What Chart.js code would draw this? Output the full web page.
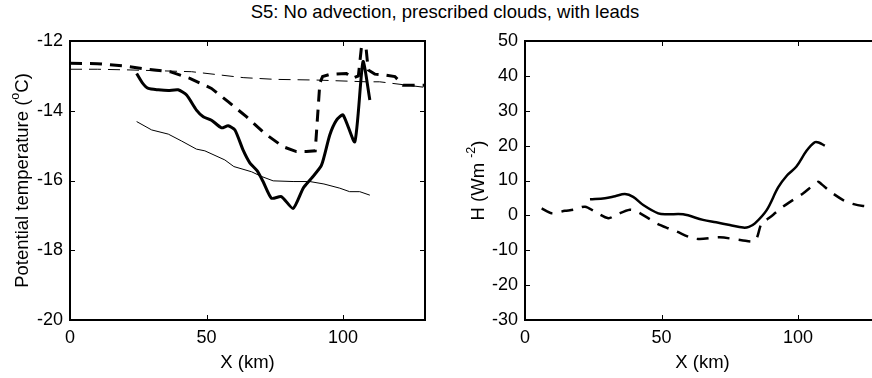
<!DOCTYPE html>
<html>
<head>
<meta charset="utf-8">
<script src="https://cdn.jsdelivr.net/npm/chart.js@4"></script>
<style>
html,body{margin:0;padding:0;width:872px;height:378px;overflow:hidden;background:#fff}
#title{position:absolute;left:0;top:1px;width:890px;text-align:center;font:18.5px 'Liberation Sans',Arial,sans-serif;color:#000}
#tempChart{position:absolute;left:0;top:0}
#fluxChart{position:absolute;left:440px;top:0}
</style>
</head>
<body>
<div id="title">S5: No advection, prescribed clouds, with leads</div>
<canvas id="tempChart" width="440" height="378"></canvas>
<canvas id="fluxChart" width="452" height="378"></canvas>
<script>
// potential temperature (degC) along X (km)
const thetaThickX = [24.4, 26.5, 28.7, 32.3, 36, 39.6, 42.7, 46.3, 48.8, 51.8, 55.5, 57.9, 60.4, 63.4, 65.9, 68.5, 70.7, 73.8, 77.4, 81.7, 85.4, 88.4, 92.1, 95.1, 97.6, 100, 104.3, 107.3, 109.8];
const thetaThickY = [-12.93, -13.2, -13.36, -13.4, -13.42, -13.4, -13.55, -13.98, -14.17, -14.27, -14.49, -14.43, -14.55, -15.13, -15.5, -15.72, -16.03, -16.51, -16.46, -16.8, -16.22, -15.94, -15.56, -14.7, -14.27, -14.12, -14.89, -12.59, -13.69];

const thetaDashX = [0, 10, 20.1, 27.4, 36.6, 43.9, 51.8, 57.9, 64.6, 71.3, 78, 82.9, 86.6, 89.8, 91.5, 92.5, 95.1, 101.2, 103.5, 105.6, 107.6, 109.2, 111.6, 115, 119, 122, 126, 130];
const thetaDashY = [-12.64, -12.65, -12.72, -12.8, -12.88, -13.07, -13.36, -13.74, -14.17, -14.65, -15.03, -15.17, -15.17, -15.15, -13.2, -13.02, -12.96, -12.93, -13.07, -13.0, -11.54, -12.83, -12.95, -12.97, -13.02, -13.27, -13.27, -13.27];

const thetaThinDashX = [0, 10, 22, 44.5, 63.4, 75, 90.3, 108.5, 113.4, 130];
const thetaThinDashY = [-12.81, -12.81, -12.83, -12.88, -13.05, -13.1, -13.12, -13.17, -13.17, -13.33];

const thetaThinX = [24.4, 29.9, 36, 40.9, 46.3, 49.4, 56.7, 60, 66.5, 70, 74.4, 81.7, 87.8, 93, 98.8, 102.4, 106.1, 109.8];
const thetaThinY = [-14.31, -14.55, -14.67, -14.87, -15.1, -15.15, -15.41, -15.6, -15.75, -15.88, -16.01, -16.03, -16.03, -16.1, -16.22, -16.32, -16.32, -16.42];

// sensible heat flux H (W m-2)
const fluxSolidX = [23.8, 29.3, 33, 36.6, 39.6, 43.3, 48.8, 52, 57.9, 65.2, 70, 75, 79.9, 82, 84.2, 88.5, 92.7, 96, 99.4, 103.1, 106.1, 107.5, 109.8];
const fluxSolidY = [4.6, 4.9, 5.5, 6.1, 5.3, 2.97, 0.57, 0.3, 0.3, -1.3, -2.0, -2.76, -3.5, -3.3, -2.3, 1.5, 8.0, 11.5, 14, 18.5, 20.95, 20.9, 20];

const fluxDashX = [6.1, 9.8, 14.6, 17.7, 22, 25.6, 30.5, 33.5, 38.4, 40.9, 45.1, 48.2, 52.4, 55.5, 60.4, 64, 71.3, 79.3, 84.2, 86.6, 88.5, 90.9, 94.5, 101.8, 107.3, 108.5, 112, 116.5, 120, 123.8, 130];
const fluxDashY = [2.0, 0.6, 1.3, 1.6, 2.5, 1.05, -0.8, 0.2, 1.6, 1.1, -0.8, -2.3, -3.7, -4.6, -6.3, -6.8, -6.3, -7.1, -7.3, -2.3, -1.2, 0.2, 2.5, 6.3, 9.6, 9.0, 6.7, 4.4, 3.3, 2.7, 2.4];

const xTicks = [0, 50, 100];

const FAMILY = "'Liberation Sans', Arial, sans-serif";
Chart.defaults.font.family = FAMILY;
Chart.defaults.color = '#000';

const pts = (xs, ys) => xs.map((x, i) => ({ x, y: ys[i] }));

// box round the plot with MATLAB-style inward ticks on all four sides
const boxTicks = {
  id: 'boxTicks',
  afterDatasetsDraw(chart) {
    const { ctx, chartArea: a, scales: { x, y } } = chart;
    ctx.save();
    ctx.strokeStyle = '#000';
    ctx.lineWidth = 1;
    ctx.beginPath();
    x.ticks.forEach(t => {
      const px = Math.round(x.getPixelForValue(t.value)) + 0.5;
      ctx.moveTo(px, a.bottom); ctx.lineTo(px, a.bottom - 5);
      ctx.moveTo(px, a.top); ctx.lineTo(px, a.top + 5);
    });
    y.ticks.forEach(t => {
      const py = Math.round(y.getPixelForValue(t.value)) + 0.5;
      ctx.moveTo(a.left, py); ctx.lineTo(a.left + 5, py);
      ctx.moveTo(a.right, py); ctx.lineTo(a.right - 5, py);
    });
    ctx.stroke();
    ctx.lineWidth = 2;
    ctx.strokeRect(a.left, a.top, a.right - a.left, a.bottom - a.top);
    ctx.restore();
  }
};

// rotated y-axis title that can carry a superscript part
const supTitle = {
  id: 'supTitle',
  afterDraw(chart, args, opts) {
    const { ctx, chartArea: a } = chart;
    const big = '18.5px ' + FAMILY, small = '12.5px ' + FAMILY;
    ctx.save();
    ctx.translate(opts.x, (a.top + a.bottom) / 2);
    ctx.rotate(-Math.PI / 2);
    ctx.fillStyle = '#000';
    ctx.textBaseline = 'middle';
    ctx.textAlign = 'left';
    let w = 0;
    opts.parts.forEach(([s, sup]) => { ctx.font = sup ? small : big; w += ctx.measureText(s).width; });
    let cx = -w / 2;
    opts.parts.forEach(([s, sup]) => {
      ctx.font = sup ? small : big;
      ctx.fillText(s, cx, sup ? -7 : 0);
      cx += ctx.measureText(s).width;
    });
    ctx.restore();
  }
};

function axes(yOpts, yWidth) {
  return {
    x: {
      type: 'linear', min: 0, max: 130,
      afterBuildTicks: s => { s.ticks = xTicks.map(v => ({ value: v })); },
      afterFit: s => { s.height = 58; },
      grid: { display: false, drawTicks: false },
      border: { display: false },
      ticks: { font: { size: 18 }, padding: 7, maxRotation: 0 },
      title: { display: true, text: 'X (km)', font: { size: 18.5 }, padding: { top: 0, bottom: 4 } }
    },
    y: Object.assign({
      type: 'linear',
      afterFit: s => { s.width = yWidth; },
      grid: { display: false, drawTicks: false },
      border: { display: false }
    }, yOpts)
  };
}

const line = (data, width, dash, tension) => ({
  data, borderColor: '#000', borderWidth: width, borderDash: dash || [],
  pointRadius: 0, tension: tension || 0, fill: false
});

new Chart(document.getElementById('tempChart'), {
  type: 'line',
  data: {
    datasets: [
      line(pts(thetaThickX, thetaThickY), 3, null, 0.2),
      line(pts(thetaDashX, thetaDashY), 3, [12, 8]),
      line(pts(thetaThinDashX, thetaThinDashY), 1, [12, 7]),
      line(pts(thetaThinX, thetaThinY), 1)
    ]
  },
  options: {
    responsive: false, animation: false,
    layout: { padding: { top: 41, right: 15, left: 0, bottom: 0 } },
    plugins: {
      legend: { display: false }, tooltip: { enabled: false },
      supTitle: { x: 23, parts: [['Potential temperature ('], ['o', true], ['C)']] }
    },
    scales: axes({ min: -20, max: -12, ticks: { stepSize: 2, font: { size: 18 }, padding: 7 } }, 70)
  },
  plugins: [boxTicks, supTitle]
});

new Chart(document.getElementById('fluxChart'), {
  type: 'line',
  data: {
    datasets: [
      line(pts(fluxSolidX, fluxSolidY), 2.5, null, 0.35),
      line(pts(fluxDashX, fluxDashY), 2.5, [12, 9], 0.3)
    ]
  },
  options: {
    responsive: false, animation: false,
    layout: { padding: { top: 41, right: 12, left: 0, bottom: 0 } },
    plugins: {
      legend: { display: false }, tooltip: { enabled: false },
      supTitle: { x: 39, parts: [['H (Wm '], ['-2', true], [')']] }
    },
    scales: axes({ min: -30, max: 50, ticks: { stepSize: 10, font: { size: 18 }, padding: 7 } }, 85)
  },
  plugins: [boxTicks, supTitle]
});
</script>
</body>
</html>
